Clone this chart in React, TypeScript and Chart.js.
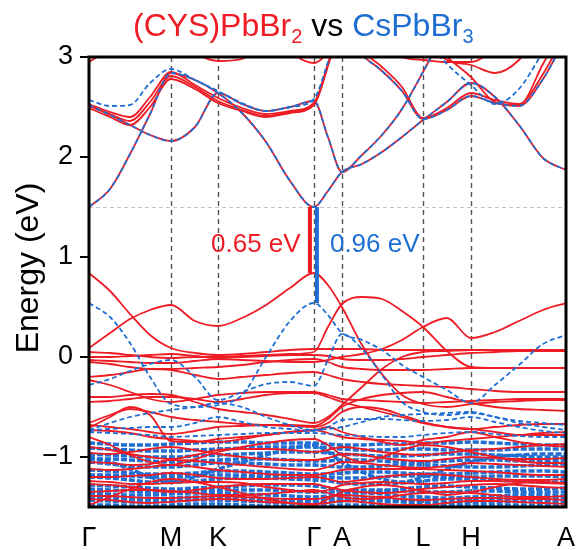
import React, { useEffect, useRef } from 'react';
import { Chart, registerables } from 'chart.js';

Chart.register(...registerables);

const RED = '#ee1c25';
const BLUE = '#1f6fd3';
const FONT = '"Liberation Sans", Arial, sans-serif';

// high-symmetry path
const HS_K = [0, 0.573, 0.902, 1.573, 1.769, 2.336, 2.671, 3.336];
const HS_LABELS = ['Γ', 'M', 'K', 'Γ', 'A', 'L', 'H', 'A'];
// k grid of the sampled band energies
const K = [0, 0.147, 0.287, 0.427, 0.573, 0.741, 0.902, 1.07, 1.238, 1.406, 1.573, 1.671, 1.769,
  1.909, 2.049, 2.189, 2.336, 2.503, 2.671, 2.839, 3.007, 3.175, 3.336];

const Y_TICKS = [-1, 0, 1, 2, 3];
const CBM = 1.5;
const VBM_RED = 0.84;
const VBM_BLUE = 0.54;
const GAP_RED_K = 1.545;
const GAP_BLUE_K = 1.594;
const GAP_RED_LABEL = '0.65 eV';
const GAP_BLUE_LABEL = '0.96 eV';

const N = null;
// conduction bands (shared by both compounds)
const CB1 = [1.50, 1.68, 2.03, 2.43, 2.84, 2.77, 2.64, 2.44, 2.15, 1.76, 1.50, 1.66, 1.85, 1.93, 2.05, 2.20, 2.37, 2.55, 2.74, 2.60, 2.32, 1.99, 1.87];
const CB3 = [2.52, 2.42, 2.32, 2.22, 2.16, 2.30, 2.64, 2.53, 2.46, 2.50, 2.56, 2.20, 1.85, 2.02, 2.22, 2.48, 2.85, 3.30, N, N, N, N, N];
const CB4 = [N, N, N, N, N, N, N, N, N, N, N, N, 3.25, 3.02, 2.86, 2.66, 2.38, 2.47, 2.61, 2.54, 2.51, 2.78, 3.20];
// CsPbBr3 only
const CB2_BLUE = [2.57, 2.51, 2.52, 2.74, 2.88, 2.77, 2.66, 2.54, 2.46, 2.50, 2.58, 2.95, 3.40, N, N, N, N, N, N, N, N, N, N];
const CB5_BLUE = [N, N, N, N, N, N, N, N, N, N, N, N, N, N, N, 3.45, 3.20, 2.93, 2.72, 2.53, 2.68, 3.05, 3.40];
// (CYS)PbBr2 only
const CB2_RED_A = [2.53, 2.45, 2.40, 2.60, 2.85, 2.72, 2.59, 2.49, 2.43, 2.46, 2.54, 2.93, 3.40, N, N, N, N, N, N, N, N, N, N];
const CB2_RED_B = [2.51, 2.43, 2.36, 2.55, 2.81, 2.70, 2.56, 2.47, 2.41, 2.45, 2.53, 2.92, 3.40, N, N, N, N, N, N, N, N, N, N];
const CB2_RED_C = [2.49, 2.40, 2.32, 2.50, 2.78, 2.68, 2.54, 2.46, 2.40, 2.44, 2.52, 2.91, 3.40, N, N, N, N, N, N, N, N, N, N];
const CB4_RED_B = [N, N, N, N, N, N, N, N, N, N, N, N, 3.30, 3.06, 2.90, 2.70, 2.39, 2.49, 2.64, 2.57, 2.53, 2.83, 3.25];
const CB5_RED = [N, N, N, N, N, N, N, N, N, N, N, N, N, N, N, 3.45, 3.22, 3.00, 2.80, 2.55, 2.52, 2.93, 3.35];
const CB6_RED = [N, N, N, N, N, N, N, N, N, N, N, N, N, N, N, N, 3.20, 2.97, 2.92, 2.84, 2.97, 3.30, N];
const CB7_RED = [N, N, N, N, N, N, N, N, N, N, N, N, N, N, 3.20, 3.00, 2.97, 2.95, 2.95, 3.10, 3.40, N, N];
const CB8_RED = [2.95, 3.10, 3.40, N, N, N, N, N, N, N, N, N, N, N, N, N, N, N, N, N, N, N, N];
const CB9_RED = [N, N, N, N, 3.30, 3.05, 2.96, 2.98, 3.25, N, N, N, N, N, N, N, N, N, N, N, N, N, N];
const CB10_RED = [N, N, N, N, N, N, N, N, 3.30, 3.05, 2.94, 3.05, 3.30, N, N, N, N, N, N, N, N, N, N];

// valence bands (CYS)PbBr2
const V1 = [0.84, 0.66, 0.43, 0.22, 0.09, 0.04, 0.02, 0.03, 0.05, 0.07, 0.08, 0.08, 0.08, 0.08, 0.07, 0.07, 0.07, 0.07, 0.07, 0.07, 0.07, 0.07, 0.07];
const V2 = [0.09, 0.24, 0.38, 0.47, 0.52, 0.36, 0.31, 0.39, 0.52, 0.69, 0.84, 0.72, 0.50, 0.12, -0.17, -0.38, -0.47, -0.50, -0.47, -0.45, -0.44, -0.43, -0.43];
const V3 = [0.05, 0.04, 0.02, 0.00, -0.01, 0.00, 0.00, 0.01, 0.02, 0.03, 0.05, 0.30, 0.53, 0.60, 0.58, 0.46, 0.30, 0.06, -0.10, -0.11, -0.11, -0.11, -0.11];
const V4 = [-0.03, -0.04, -0.05, -0.06, -0.06, -0.04, -0.02, -0.03, -0.04, -0.05, -0.05, -0.03, 0.00, 0.03, 0.08, 0.17, 0.30, 0.39, 0.19, 0.25, 0.36, 0.47, 0.54];
const V5 = [0.00, 0.00, 0.01, 0.02, 0.03, 0.01, -0.01, 0.00, 0.01, 0.02, 0.02, 0.01, -0.02, -0.03, -0.03, -0.02, 0.00, 0.02, 0.04, 0.05, 0.06, 0.06, 0.06];
const V6 = [-0.05, -0.07, -0.10, -0.12, -0.12, -0.11, -0.10, -0.08, -0.05, -0.03, -0.02, -0.05, -0.10, -0.12, -0.13, -0.13, -0.13, -0.12, -0.11, -0.11, -0.11, -0.11, -0.11];
const V7 = [-0.20, -0.18, -0.15, -0.12, -0.13, -0.18, -0.22, -0.20, -0.18, -0.16, -0.15, -0.18, -0.22, -0.25, -0.27, -0.28, -0.29, -0.30, -0.32, -0.34, -0.35, -0.35, -0.35];
const V8 = [-0.23, -0.28, -0.35, -0.42, -0.45, -0.42, -0.38, -0.36, -0.35, -0.35, -0.35, -0.38, -0.42, -0.43, -0.44, -0.45, -0.46, -0.45, -0.44, -0.43, -0.42, -0.42, -0.42];
const V9 = [-0.40, -0.40, -0.38, -0.37, -0.38, -0.45, -0.52, -0.55, -0.58, -0.62, -0.66, -0.60, -0.48, -0.30, -0.12, 0.00, 0.05, 0.06, 0.07, 0.07, 0.07, 0.07, 0.07];
const V10 = [-0.71, -0.60, -0.50, -0.58, -0.84, -0.85, -0.82, -0.80, -0.78, -0.75, -0.73, -0.70, -0.75, -0.80, -0.85, -0.88, -0.83, -0.80, -0.75, -0.80, -0.85, -0.88, -0.90];
const V11 = [-0.66, -0.58, -0.52, -0.55, -0.60, -0.63, -0.65, -0.67, -0.68, -0.69, -0.70, -0.66, -0.55, -0.50, -0.52, -0.58, -0.65, -0.70, -0.72, -0.75, -0.78, -0.78, -0.78];
const V12 = [-0.45, -0.44, -0.42, -0.40, -0.40, -0.42, -0.45, -0.42, -0.38, -0.36, -0.36, -0.40, -0.45, -0.50, -0.55, -0.60, -0.66, -0.70, -0.72, -0.70, -0.68, -0.67, -0.67];
const V13 = [-0.68, -0.70, -0.72, -0.75, -0.77, -0.74, -0.70, -0.69, -0.68, -0.68, -0.69, -0.62, -0.50, -0.42, -0.38, -0.36, -0.35, -0.40, -0.46, -0.50, -0.52, -0.53, -0.54];
const RD1 = [-0.73, -0.74, -0.76, -0.80, -0.82, -0.84, -0.85, -0.82, -0.78, -0.75, -0.73, -0.76, -0.80, -0.82, -0.83, -0.84, -0.86, -0.84, -0.82, -0.80, -0.78, -0.76, -0.75];
const RD2 = [-0.90, -0.93, -0.97, -1.00, -1.02, -0.98, -0.93, -0.92, -0.92, -0.93, -0.95, -0.93, -0.90, -0.92, -0.95, -0.97, -0.98, -0.96, -0.93, -0.92, -0.90, -0.88, -0.87];
const RD3 = [-1.05, -1.06, -1.08, -1.07, -1.03, -1.04, -1.06, -1.08, -1.10, -1.12, -1.13, -1.10, -1.05, -1.06, -1.08, -1.10, -1.11, -1.09, -1.06, -1.07, -1.08, -1.09, -1.10];
const RD4 = [-1.12, -1.13, -1.12, -1.10, -1.08, -1.10, -1.13, -1.15, -1.17, -1.18, -1.18, -1.16, -1.13, -1.12, -1.12, -1.12, -1.12, -1.13, -1.14, -1.15, -1.17, -1.18, -1.18];
const RD5 = [-1.20, -1.20, -1.19, -1.18, -1.16, -1.18, -1.21, -1.22, -1.22, -1.21, -1.20, -1.22, -1.25, -1.23, -1.20, -1.18, -1.17, -1.18, -1.20, -1.22, -1.23, -1.23, -1.22];
const RD6 = [-1.27, -1.28, -1.30, -1.33, -1.35, -1.33, -1.30, -1.28, -1.27, -1.27, -1.27, -1.30, -1.33, -1.35, -1.36, -1.35, -1.32, -1.30, -1.28, -1.27, -1.28, -1.30, -1.31];
const RD7 = [-1.35, -1.34, -1.33, -1.33, -1.34, -1.36, -1.38, -1.38, -1.37, -1.35, -1.33, -1.36, -1.40, -1.42, -1.41, -1.38, -1.36, -1.35, -1.36, -1.38, -1.40, -1.40, -1.39];
const RD8 = [-1.42, -1.43, -1.45, -1.46, -1.45, -1.43, -1.42, -1.43, -1.45, -1.46, -1.47, -1.46, -1.44, -1.45, -1.47, -1.48, -1.48, -1.46, -1.44, -1.44, -1.45, -1.46, -1.47];
const RD9 = [-0.80, -0.88, -0.98, -1.05, -1.08, -1.02, -0.95, -0.90, -0.86, -0.83, -0.82, -0.88, -0.98, -1.05, -1.00, -0.93, -0.88, -0.90, -0.95, -1.00, -1.04, -1.06, -1.06];
const RD10 = [-1.48, -1.40, -1.32, -1.25, -1.22, -1.25, -1.30, -1.36, -1.42, -1.46, -1.48, -1.42, -1.35, -1.30, -1.28, -1.30, -1.34, -1.38, -1.35, -1.30, -1.26, -1.25, -1.26];
const RD11 = [-0.96, -0.97, -0.95, -0.92, -0.90, -0.93, -0.97, -1.00, -1.02, -1.03, -1.03, -1.01, -0.97, -0.98, -1.01, -1.03, -1.04, -1.02, -1.00, -1.01, -1.02, -1.02, -1.01];
const RD12 = [-1.24, -1.25, -1.27, -1.27, -1.26, -1.25, -1.25, -1.26, -1.30, -1.33, -1.35, -1.33, -1.28, -1.26, -1.25, -1.26, -1.27, -1.26, -1.24, -1.24, -1.25, -1.26, -1.27];
const RD13 = [-1.39, -1.39, -1.40, -1.41, -1.41, -1.40, -1.39, -1.40, -1.41, -1.42, -1.42, -1.40, -1.38, -1.39, -1.40, -1.42, -1.43, -1.42, -1.41, -1.41, -1.42, -1.42, -1.43];

// valence bands CsPbBr3
const B1 = [0.54, 0.40, 0.14, -0.20, -0.47, -0.50, -0.48, -0.38, 0.00, 0.36, 0.54, 0.42, 0.24, 0.17, 0.07, -0.08, -0.20, -0.33, -0.46, -0.28, -0.08, 0.13, 0.22];
const B2 = [-0.28, -0.22, -0.14, -0.07, -0.03, -0.20, -0.43, -0.35, -0.27, -0.25, -0.29, -0.03, 0.23, 0.08, -0.18, -0.45, -0.55, -0.58, -0.56, -0.60, -0.64, -0.66, -0.68];
const B3 = [-0.73, -0.66, -0.60, -0.56, -0.53, -0.50, -0.46, -0.50, -0.60, -0.68, -0.73, -0.72, -0.70, -0.65, -0.60, -0.58, -0.57, -0.56, -0.55, -0.60, -0.66, -0.70, -0.73];
const B4 = [-0.73, -0.72, -0.71, -0.70, -0.70, -0.66, -0.60, -0.65, -0.70, -0.72, -0.74, -0.70, -0.63, -0.62, -0.62, -0.63, -0.64, -0.63, -0.60, -0.65, -0.70, -0.74, -0.76];
const B5 = [-0.75, -0.76, -0.77, -0.78, -0.80, -0.79, -0.78, -0.77, -0.76, -0.76, -0.76, -0.77, -0.78, -0.79, -0.80, -0.80, -0.78, -0.76, -0.75, -0.77, -0.79, -0.80, -0.80];
const B6 = [-0.86, -0.87, -0.88, -0.88, -0.87, -0.86, -0.85, -0.85, -0.86, -0.86, -0.86, -0.87, -0.88, -0.88, -0.87, -0.87, -0.86, -0.86, -0.85, -0.86, -0.87, -0.88, -0.88];
const B7 = [-0.91, -0.92, -0.93, -0.94, -0.94, -0.93, -0.92, -0.91, -0.90, -0.90, -0.90, -0.91, -0.92, -0.93, -0.93, -0.92, -0.92, -0.93, -0.93, -0.93, -0.92, -0.92, -0.92];
const B8 = [-0.97, -0.98, -0.99, -1.00, -1.00, -0.99, -0.98, -0.97, -0.96, -0.95, -0.95, -0.96, -0.97, -0.98, -0.99, -0.99, -0.98, -0.97, -0.97, -0.98, -0.99, -1.00, -1.00];
const B9 = [-1.05, -1.07, -1.09, -1.10, -1.10, -1.08, -1.06, -1.06, -1.07, -1.08, -1.08, -1.09, -1.10, -1.10, -1.09, -1.08, -1.08, -1.09, -1.10, -1.10, -1.09, -1.08, -1.07];
const B10 = [-1.13, -1.14, -1.16, -1.17, -1.17, -1.16, -1.14, -1.14, -1.15, -1.16, -1.17, -1.17, -1.16, -1.15, -1.15, -1.16, -1.17, -1.17, -1.16, -1.15, -1.14, -1.14, -1.15];
const B11 = [-1.20, -1.21, -1.23, -1.25, -1.25, -1.24, -1.22, -1.21, -1.21, -1.22, -1.23, -1.24, -1.26, -1.27, -1.27, -1.26, -1.24, -1.22, -1.22, -1.23, -1.24, -1.25, -1.25];
const B12 = [-1.28, -1.29, -1.30, -1.31, -1.32, -1.31, -1.30, -1.29, -1.28, -1.28, -1.29, -1.31, -1.34, -1.35, -1.34, -1.32, -1.30, -1.29, -1.30, -1.31, -1.32, -1.32, -1.31];
const B13 = [-1.36, -1.37, -1.38, -1.38, -1.37, -1.36, -1.36, -1.37, -1.38, -1.39, -1.40, -1.39, -1.37, -1.36, -1.37, -1.39, -1.40, -1.41, -1.40, -1.39, -1.38, -1.38, -1.39];
const B14 = [-1.43, -1.44, -1.45, -1.45, -1.44, -1.43, -1.43, -1.44, -1.45, -1.46, -1.46, -1.45, -1.44, -1.43, -1.44, -1.45, -1.46, -1.47, -1.46, -1.45, -1.44, -1.44, -1.45];
const B15 = [-1.00, -1.05, -1.12, -1.20, -1.25, -1.20, -1.12, -1.05, -0.98, -0.92, -0.88, -0.95, -1.05, -1.15, -1.22, -1.25, -1.20, -1.12, -1.05, -1.00, -0.98, -0.97, -0.97];
const B16 = [-1.02, -1.02, -1.03, -1.04, -1.05, -1.04, -1.03, -1.02, -1.02, -1.03, -1.04, -1.04, -1.03, -1.03, -1.04, -1.05, -1.05, -1.04, -1.03, -1.03, -1.04, -1.04, -1.03];
const B17 = [-1.18, -1.18, -1.19, -1.20, -1.20, -1.19, -1.18, -1.18, -1.19, -1.20, -1.20, -1.20, -1.21, -1.21, -1.20, -1.19, -1.19, -1.20, -1.20, -1.19, -1.19, -1.19, -1.20];
const B18 = [-1.32, -1.33, -1.34, -1.35, -1.35, -1.34, -1.33, -1.33, -1.33, -1.34, -1.35, -1.35, -1.34, -1.33, -1.33, -1.34, -1.35, -1.35, -1.34, -1.34, -1.35, -1.35, -1.35];
const B19 = [-1.41, -1.41, -1.42, -1.42, -1.41, -1.40, -1.40, -1.41, -1.42, -1.43, -1.43, -1.42, -1.41, -1.41, -1.42, -1.43, -1.43, -1.44, -1.43, -1.42, -1.41, -1.41, -1.42];
const B20 = [-1.48, -1.48, -1.49, -1.49, -1.48, -1.47, -1.47, -1.48, -1.49, -1.49, -1.49, -1.49, -1.48, -1.48, -1.48, -1.49, -1.49, -1.49, -1.49, -1.48, -1.48, -1.48, -1.48];

const RED_BANDS = [CB1, CB3, CB4, CB2_RED_A, CB2_RED_B, CB2_RED_C, CB4_RED_B, CB5_RED, CB6_RED, CB7_RED, CB8_RED, CB9_RED, CB10_RED,
  V1, V2, V3, V4, V5, V6, V7, V8, V9, V10, V11, V12, V13, RD1, RD2, RD3, RD4, RD5, RD6, RD7, RD8, RD9, RD10, RD11, RD12, RD13];
const BLUE_BANDS = [CB1, CB3, CB4, CB2_BLUE, CB5_BLUE, B1, B2, B3, B4, B5];
const BLUE_DENSE = [B6, B7, B8, B9, B10, B11, B12, B13, B14, B15, B16, B17, B18, B19, B20];

const pts = (band: (number | null)[]) => K.map((k, i) => ({ x: k, y: band[i] }));

const decor = {
  id: 'decor',
  beforeDatasetsDraw(chart: any) {
    const { ctx, chartArea: a, scales } = chart;
    const x = scales.x, y = scales.y;
    ctx.save();
    ctx.lineWidth = 1;
    ctx.strokeStyle = '#c4c4c4';
    ctx.setLineDash([4, 3]);
    const yc = Math.round(y.getPixelForValue(CBM)) + 0.5;
    ctx.beginPath(); ctx.moveTo(a.left, yc); ctx.lineTo(a.right, yc); ctx.stroke();
    ctx.strokeStyle = '#555';
    ctx.lineWidth = 1.4;
    ctx.setLineDash([5, 4]);
    HS_K.slice(1, -1).forEach((k) => {
      const px = Math.round(x.getPixelForValue(k)) + 0.5;
      ctx.beginPath(); ctx.moveTo(px, a.top); ctx.lineTo(px, a.bottom); ctx.stroke();
    });
    ctx.restore();
  },
  afterDatasetsDraw(chart: any) {
    const { ctx, chartArea: a, scales } = chart;
    const x = scales.x, y = scales.y;
    ctx.save();
    ctx.setLineDash([]);
    ctx.strokeStyle = '#000';
    ctx.lineWidth = 3;
    ctx.strokeRect(a.left, a.top, a.right - a.left, a.bottom - a.top);
    ctx.font = `26px ${FONT}`;
    ctx.textBaseline = 'alphabetic';
    const ly = y.getPixelForValue(1.05);
    ctx.fillStyle = RED; ctx.textAlign = 'right';
    ctx.fillText(GAP_RED_LABEL, x.getPixelForValue(1.48), ly);
    ctx.fillStyle = BLUE; ctx.textAlign = 'left';
    ctx.fillText(GAP_BLUE_LABEL, x.getPixelForValue(1.685), ly);
    ctx.restore();
  },
  afterDraw(chart: any) {
    const { ctx } = chart;
    ctx.save();
    const parts = [
      { t: '(CYS)PbBr', c: RED, s: false },
      { t: '2', c: RED, s: true },
      { t: ' vs ', c: '#000', s: false },
      { t: 'CsPbBr', c: BLUE, s: false },
      { t: '3', c: BLUE, s: true },
    ];
    ctx.textBaseline = 'alphabetic';
    ctx.textAlign = 'left';
    let cx = 133;
    parts.forEach((p) => {
      ctx.font = `${p.s ? 20 : 32}px ${FONT}`;
      ctx.fillStyle = p.c;
      ctx.fillText(p.t, cx, p.s ? 43 : 36);
      cx += ctx.measureText(p.t).width;
    });
    ctx.translate(38, 268);
    ctx.rotate(-Math.PI / 2);
    ctx.font = `32px ${FONT}`;
    ctx.fillStyle = '#000';
    ctx.textAlign = 'center';
    ctx.fillText('Energy (eV)', 0, 0);
    ctx.restore();
  },
};

export default function App() {
  const ref = useRef<HTMLCanvasElement>(null);
  useEffect(() => {
    document.body.style.margin = '0';
    const datasets: any[] = [];
    RED_BANDS.forEach((b) => datasets.push({
      data: pts(b), borderColor: RED, borderWidth: 1.8, pointRadius: 0, fill: false,
      cubicInterpolationMode: 'monotone', order: 3,
    }));
    BLUE_BANDS.forEach((b) => datasets.push({
      data: pts(b), borderColor: BLUE, borderWidth: 1.8, borderDash: [5, 3], pointRadius: 0, fill: false,
      cubicInterpolationMode: 'monotone', order: 2,
    }));
    BLUE_DENSE.forEach((b) => datasets.push({
      data: pts(b), borderColor: BLUE, borderWidth: 3.5, borderDash: [6, 2], pointRadius: 0, fill: false,
      cubicInterpolationMode: 'monotone', order: 4,
    }));
    datasets.push({
      data: [{ x: GAP_RED_K, y: VBM_RED }, { x: GAP_RED_K, y: CBM }],
      borderColor: RED, borderWidth: 4, pointRadius: 0, order: 0,
    });
    datasets.push({
      data: [{ x: GAP_BLUE_K, y: VBM_BLUE }, { x: GAP_BLUE_K, y: CBM }],
      borderColor: BLUE, borderWidth: 4, pointRadius: 0, order: 0,
    });
    const chart = new Chart(ref.current as HTMLCanvasElement, {
      type: 'line',
      data: { datasets },
      options: {
        animation: false,
        responsive: false,
        devicePixelRatio: 1,
        layout: { padding: { top: 57, right: 11, left: 0, bottom: 0 } },
        plugins: { legend: { display: false }, title: { display: false }, tooltip: { enabled: false } },
        scales: {
          x: {
            type: 'linear', min: 0, max: HS_K[HS_K.length - 1],
            afterFit: (s: any) => { s.height = 43; s.paddingLeft = 0; s.paddingRight = 0; },
            afterBuildTicks: (s: any) => { s.ticks = HS_K.map((v) => ({ value: v })); },
            ticks: {
              autoSkip: false, maxRotation: 0, minRotation: 0, padding: 7, color: '#000',
              font: { size: 27, family: FONT },
              callback: (_v: any, i: number) => HS_LABELS[i],
            },
            grid: { display: false },
            border: { display: false },
          },
          y: {
            min: -1.5, max: 3,
            afterFit: (s: any) => { s.width = 89; s.paddingTop = 0; s.paddingBottom = 0; },
            afterBuildTicks: (s: any) => { s.ticks = Y_TICKS.map((v) => ({ value: v })); },
            ticks: {
              padding: 7, color: '#000', font: { size: 27, family: FONT },
              callback: (v: any) => (Number(v) < 0 ? '\u2212' + Math.abs(Number(v)) : String(v)),
            },
            grid: { drawOnChartArea: false, drawTicks: true, tickLength: 9, tickWidth: 2, tickColor: '#000', lineWidth: 2, color: '#000' },
            border: { display: false },
          },
        },
      },
      plugins: [decor],
    } as any);
    return () => chart.destroy();
  }, []);
  return <canvas ref={ref} width={577} height={550} style={{ display: 'block' }} />;
}
